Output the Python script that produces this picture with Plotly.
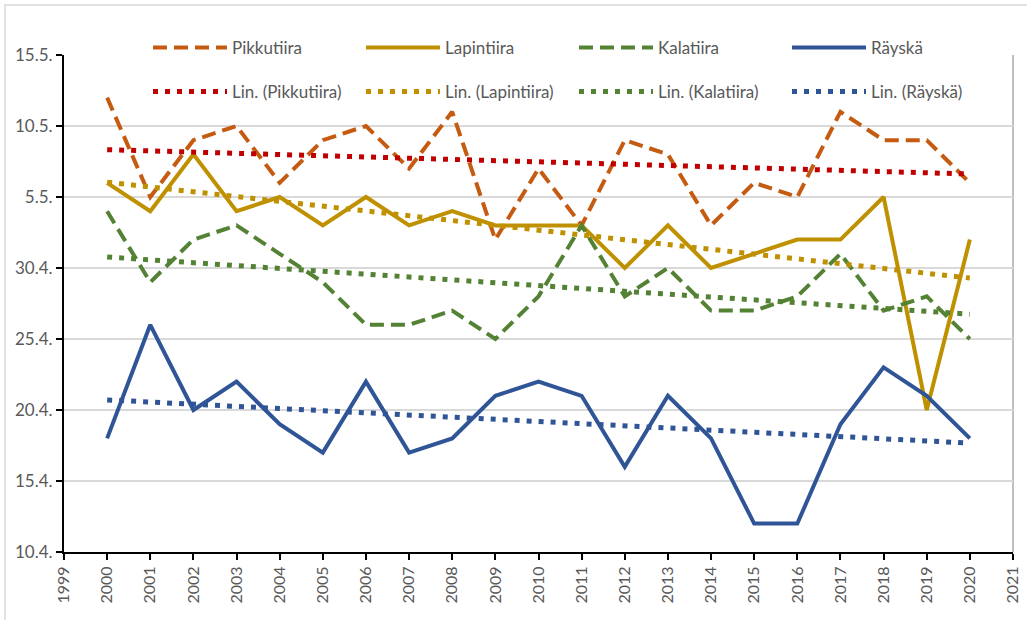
import numpy as np
import plotly.graph_objects as go
from datetime import date

years = list(range(2000, 2021))

# Arrival dates (day.month)
pikkutiira = ["12.5", "5.5", "9.5", "10.5", "6.5", "9.5", "10.5", "7.5", "11.5", "2.5", "7.5",
              "3.5", "9.5", "8.5", "3.5", "6.5", "5.5", "11.5", "9.5", "9.5", "6.5"]
lapintiira = ["6.5", "4.5", "8.5", "4.5", "5.5", "3.5", "5.5", "3.5", "4.5", "3.5", "3.5",
              "3.5", "30.4", "3.5", "30.4", "1.5", "2.5", "2.5", "5.5", "20.4", "2.5"]
kalatiira = ["4.5", "29.4", "2.5", "3.5", "1.5", "29.4", "26.4", "26.4", "27.4", "25.4", "28.4",
             "3.5", "28.4", "30.4", "27.4", "27.4", "28.4", "1.5", "27.4", "28.4", "25.4"]
rayska = ["18.4", "26.4", "20.4", "22.4", "19.4", "17.4", "22.4", "17.4", "18.4", "21.4", "22.4",
          "21.4", "16.4", "21.4", "18.4", "12.4", "12.4", "19.4", "23.4", "21.4", "18.4"]

y_tick_labels = ["10.4.", "15.4.", "20.4.", "25.4.", "30.4.", "5.5.", "10.5.", "15.5."]
x_tick_labels = [str(y) for y in range(1999, 2022)]


def doy(s):
    d, m = [int(p) for p in s.strip(".").split(".")]
    return date(2001, m, d).timetuple().tm_yday


series = [
    ("Pikkutiira", pikkutiira, "#C55A11", "14px,7px", "Lin. (Pikkutiira)", "#C00000"),
    ("Lapintiira", lapintiira, "#BF9000", "solid", "Lin. (Lapintiira)", "#BF9000"),
    ("Kalatiira", kalatiira, "#548235", "14px,7px", "Lin. (Kalatiira)", "#548235"),
    ("Räyskä", rayska, "#2F5597", "solid", "Lin. (Räyskä)", "#2F5597"),
]

fig = go.Figure()
for name, vals, col, dash, _, _ in series:
    fig.add_trace(go.Scatter(x=years, y=[doy(v) for v in vals], mode="lines", name=name,
                             legend="legend",
                             line=dict(color=col, width=4, dash=dash)))

for name, vals, _, _, tname, tcol in series:
    yv = np.array([doy(v) for v in vals], dtype=float)
    xv = np.array(years, dtype=float)
    k, b = np.polyfit(xv, yv, 1)
    fig.add_trace(go.Scatter(x=years, y=k * xv + b, mode="lines", name=tname,
                             legend="legend2",
                             line=dict(color=tcol, width=5, dash="5px,7px")))

tickvals = [doy(t) for t in y_tick_labels]
grey = "#595959"

# plot area target in screen pixels (body margin removed via post_script)
PL, PT, PW, PH = 64, 55, 949, 497
FW, FH = 1027, 620


def px_x(x):
    return (x - PL) / PW


def px_y(y):
    return (PT + PH - y) / PH


legend_common = dict(orientation="h", xanchor="left", yanchor="middle",
                     entrywidth=124, entrywidthmode="pixels", itemwidth=74,
                     font=dict(size=17, color=grey))

fig.update_layout(
    width=FW, height=FH,
    margin=dict(l=PL, r=FW - PL - PW, t=PT, b=FH - PT - PH, autoexpand=False),
    paper_bgcolor="white", plot_bgcolor="white",
    font=dict(family="Lato, Carlito, Liberation Sans, sans-serif", size=16, color=grey),
    showlegend=True,
    legend=dict(x=px_x(148), y=px_y(48), bgcolor="white", **legend_common),
    legend2=dict(x=px_x(148), y=px_y(92), bgcolor="rgba(0,0,0,0)", **legend_common),
    xaxis=dict(range=[1999, 2021], tickmode="array", tickvals=list(range(1999, 2022)),
               ticktext=x_tick_labels, tickangle=-90, showgrid=False, zeroline=False,
               showline=True, linecolor="black", linewidth=2, ticks="outside",
               ticklen=6, tickwidth=2, tickcolor="black", tickfont=dict(size=16, color=grey)),
    yaxis=dict(range=[tickvals[0], tickvals[-1]], tickmode="array", tickvals=tickvals,
               ticktext=y_tick_labels, showgrid=True, gridcolor="#D9D9D9", gridwidth=1.5,
               zeroline=False, showline=True, linecolor="black", linewidth=2,
               ticks="outside", ticklen=6, tickwidth=2, tickcolor="black",
               tickfont=dict(size=17, color=grey)),
    shapes=[
        dict(type="line", xref="paper", yref="paper", x0=1, x1=1, y0=0, y1=1,
             line=dict(color="#BFBFBF", width=2), layer="below"),
        dict(type="rect", xref="paper", yref="paper",
             x0=px_x(5), x1=px_x(1040), y0=px_y(640), y1=px_y(5),
             line=dict(color="#D9D9D9", width=1.5), fillcolor="rgba(0,0,0,0)", layer="below"),
    ],
)

fig.write_html("out.html", config={"displayModeBar": False},
               post_script="document.body.style.margin='0';document.body.style.padding='0';")
